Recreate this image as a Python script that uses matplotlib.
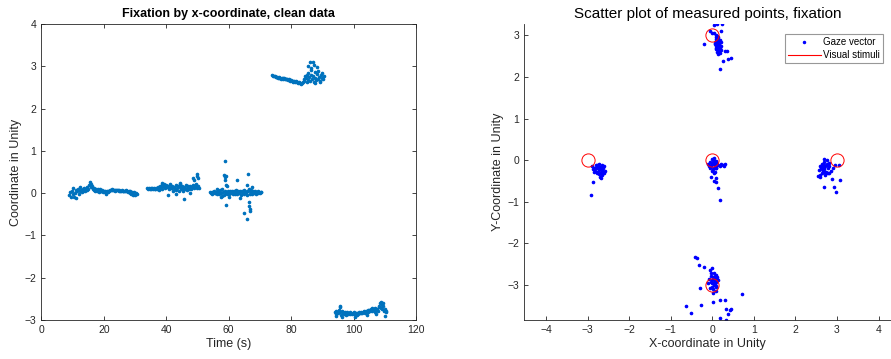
import numpy as np
from matplotlib import pyplot as plt
from matplotlib.lines import Line2D

# x-coordinate over time, sampled every 0.25 s, one list per fixation
dt = 0.25
seg1_t0 = 9.0
seg1 = [-0.05, 0.02, -0.1, 0.05, -0.03, 0.12, -0.08, 0.0, 0.08, -0.12, 0.06, 0.1, -0.02, 0.14, 0.05,
        0.08, 0.03, 0.1, 0.06, 0.12, 0.04, 0.09, 0.15, 0.07, 0.11,
        0.2, 0.27, 0.22, 0.15, 0.18, 0.1,
        0.08, 0.12, 0.06, 0.1, 0.05, 0.09, 0.07, 0.03, 0.1, 0.06, 0.04, 0.08, 0.02, 0.06,
        0.03, 0.05, -0.01, 0.04, 0.06, 0.02, 0.05, 0.08,
        0.08, 0.07, 0.09, 0.08, 0.07, 0.08, 0.06, 0.07, 0.08, 0.07, 0.06, 0.07, 0.05, 0.06, 0.07, 0.05,
        0.06, 0.04, 0.06, 0.05, 0.07, 0.04,
        0.02, 0.04, 0.0, 0.05, -0.02, 0.03, 0.0, -0.04, 0.02, -0.05, 0.01, -0.02]
seg2_t0 = 34.0
seg2 = [0.12, 0.11, 0.13, 0.1, 0.12, 0.11, 0.13, 0.1, 0.12, 0.09, 0.11,
        0.13, 0.1, 0.15, 0.12, 0.08, 0.16, 0.13, 0.2, 0.11, 0.18,
        0.22, 0.12, 0.16, 0.2, 0.14, 0.18, 0.1, 0.15, 0.21, 0.13, 0.17, 0.12,
        0.05, 0.15, 0.1, 0.2, 0.08, 0.13, 0.18, 0.06, 0.14, 0.22, 0.1, 0.16,
        0.12, 0.04, 0.15, 0.09, 0.2, 0.13, 0.07, 0.16, 0.11, 0.18, 0.14, 0.09,
        0.15, 0.2, 0.12, 0.18, 0.14, 0.22, 0.16, 0.13, 0.18, 0.12]
seg3_t0 = 54.0
seg3 = [0.02, 0.0, 0.03, -0.01, 0.02, 0.04, 0.0, 0.01, 0.03, -0.02, 0.02,
        0.05, -0.03, 0.08, 0.0, -0.06, 0.1, 0.02, -0.04, 0.06, 0.0,
        0.03, -0.02, 0.05, 0.01, -0.01, 0.04, 0.0, 0.06, -0.03, 0.02, 0.05, -0.01,
        0.03, 0.07, -0.02, 0.04, 0.0, 0.06, 0.02, -0.04, 0.05, 0.01, 0.08, -0.02,
        0.03, 0.0, 0.06, -0.05, 0.04, 0.1, -0.03, 0.02, 0.07, -0.01, 0.04, 0.0,
        0.03, 0.05, -0.02, 0.02, 0.04, 0.0, 0.03, 0.01, 0.02, 0.03]
seg4_t0 = 74.0
seg4 = [2.79, 2.78, 2.76, 2.77, 2.75, 2.74, 2.75, 2.73, 2.72, 2.74, 2.72,
        2.71, 2.73, 2.72, 2.7, 2.72, 2.71, 2.69, 2.71, 2.7, 2.68,
        2.7, 2.68, 2.66, 2.67, 2.65, 2.66, 2.64, 2.66, 2.63, 2.65, 2.62, 2.63,
        2.61, 2.62, 2.6, 2.61, 2.59, 2.6, 2.62, 2.65, 2.7, 2.78, 2.72, 2.8,
        2.68, 2.85, 2.74, 2.66, 2.8, 2.92, 2.7, 2.77, 2.64, 2.86, 2.73, 2.68,
        2.82, 2.7, 2.9, 2.75, 2.65, 2.8, 2.72, 2.85, 2.7, 2.76]
seg5_t0 = 94.0
seg5 = [-2.82, -2.78, -2.86, -2.8, -2.84, -2.76, -2.7, -2.82, -2.88, -2.79, -2.84,
        -2.8, -2.85, -2.82, -2.87, -2.83, -2.8, -2.86, -2.84, -2.82, -2.85,
        -2.84, -2.86, -2.83, -2.85, -2.82, -2.86, -2.84, -2.88, -2.83, -2.85, -2.82, -2.84,
        -2.83, -2.81, -2.84, -2.8, -2.82, -2.79, -2.83, -2.78, -2.81, -2.77, -2.8, -2.76,
        -2.79, -2.75, -2.78, -2.72, -2.77, -2.74, -2.8, -2.71, -2.76, -2.73, -2.79, -2.7,
        -2.66, -2.6, -2.72, -2.64, -2.75, -2.68, -2.78, -2.74, -2.82, -2.79]

# scattered samples off the main bands (time, value)
extra_t = [40.5, 43.2, 45.8, 47.5, 48.6, 48.8, 49.9, 50.0, 50.1, 38.8, 44.5,
           58.8, 58.6, 58.9, 59.3, 58.7, 59.0, 59.5, 59.1, 62.8, 64.8, 65.8, 66.1, 65.9,
           66.6, 66.7, 66.8, 66.5, 60.2, 57.5, 63.5, 67.5, 56.2,
           85.5, 86.2, 87.0, 87.2, 86.5, 88.4, 87.6, 89.2, 85.0,
           95.6, 94.5, 100.5, 104.2, 107.2, 108.7, 109.4, 110.2, 96.2]
extra_v = [-0.05, -0.02, -0.14, 0.0, 0.36, 0.3, 0.45, 0.4, 0.35, 0.25, 0.25,
           0.75, 0.42, 0.38, 0.4, 0.3, 0.2, 0.18, -0.28, 0.3, -0.47, -0.62, 0.46, 0.2,
           -0.3, -0.38, -0.43, -0.22, -0.1, -0.1, -0.12, 0.15, 0.1,
           3.0, 3.09, 3.1, 3.02, 2.95, 2.98, 2.6, 2.62, 2.62,
           -2.66, -2.9, -2.92, -2.88, -2.86, -2.57, -2.6, -2.9, -2.92]

# gaze points per target
top_x = [0.05, 0.1, 0.15, 0.08, 0.12, 0.18, 0.14, 0.1, 0.06, 0.2, 0.13, 0.16, 0.11, 0.09, 0.17, 0.14,
         0.12, 0.19, 0.07, 0.15, 0.1, 0.13, 0.16, 0.12, 0.18, 0.11, 0.14, 0.2, 0.09, 0.15, 0.12, 0.17,
         0.13, 0.22, 0.08, 0.05, 0.12, 0.24, -0.2, 0.27, 0.18, 0.44, 0.38, 0.3, 0.35, -0.05, 0.0, 0.2]
top_y = [3.05, 3.0, 2.95, 2.92, 2.9, 2.88, 2.85, 2.86, 2.82, 2.83, 2.8, 2.78, 2.77, 2.75, 2.74, 2.72,
         2.7, 2.7, 2.8, 2.68, 2.66, 2.64, 2.62, 2.6, 2.58, 2.84, 2.76, 2.73, 2.7, 2.9, 2.98, 2.81,
         2.55, 2.65, 2.95, 3.24, 3.26, 3.26, 2.78, 2.37, 2.2, 2.46, 2.42, 2.63, 2.62, 3.1, 3.05, 3.1]
mid_x = [-0.1, -0.05, 0.0, 0.05, 0.1, 0.02, 0.07, -0.03, 0.04, 0.08, 0.12, 0.0, 0.06, -0.06, 0.03, 0.1,
         0.15, 0.2, 0.25, 0.3, 0.02, -0.02, 0.05, 0.08, 0.0, 0.04, 0.1, -0.08, 0.06, 0.03, 0.18, 0.28,
         0.15, 0.18, 0.09, -0.03, 0.05, 0.1]
mid_y = [-0.1, -0.05, 0.02, 0.05, -0.02, -0.08, -0.12, -0.15, -0.18, -0.2, -0.1, -0.25, -0.28, -0.2,
         0.0, -0.05, -0.12, -0.1, -0.12, -0.1, -0.22, -0.12, -0.3, -0.15, -0.08, -0.02, -0.18, -0.15,
         -0.06, -0.1, -0.15, -0.14, -0.68, -0.96, -0.52, -0.4, -0.5, -0.42]
left_x = [-2.9, -2.85, -2.8, -2.75, -2.7, -2.65, -2.6, -2.82, -2.77, -2.72, -2.67, -2.62, -2.58, -2.88,
          -2.8, -2.74, -2.68, -2.63, -2.78, -2.72, -2.66, -2.7, -2.76, -2.64, -2.84, -2.6, -2.7, -2.68,
          -2.73, -2.66, -2.86, -2.92]
left_y = [-0.15, -0.18, -0.12, -0.2, -0.16, -0.22, -0.14, -0.25, -0.28, -0.24, -0.3, -0.2, -0.26, -0.22,
          -0.2, -0.14, -0.18, -0.28, -0.32, -0.34, -0.36, -0.3, -0.12, -0.12, -0.28, -0.32, -0.4, -0.42,
          -0.1, -0.25, -0.52, -0.84]
right_x = [2.6, 2.65, 2.7, 2.75, 2.8, 2.62, 2.68, 2.72, 2.78, 2.66, 2.7, 2.74, 2.58, 2.64, 2.76, 2.82,
           2.7, 2.68, 2.73, 2.6, 2.85, 2.9, 2.66, 2.72, 2.78, 2.63, 2.75, 2.69, 2.8, 2.95,
           2.92, 2.98, 3.07, 2.7, 2.55, 2.6, 3.05, 2.88]
right_y = [-0.15, -0.1, -0.05, 0.0, -0.08, -0.2, -0.18, -0.15, -0.2, -0.25, -0.22, -0.28, -0.24, -0.3,
           -0.12, -0.15, -0.12, 0.02, -0.3, -0.36, -0.25, -0.2, -0.15, -0.35, -0.3, -0.22, -0.1, -0.28,
           -0.32, -0.12, -0.64, -0.76, -0.48, -0.64, -0.38, -0.4, -0.12, -0.45]
bot_x = [-0.05, 0.0, 0.05, 0.1, -0.02, 0.03, 0.08, -0.08, 0.0, 0.06, 0.12, -0.04, 0.02, 0.07, 0.15, -0.1,
         0.04, 0.0, 0.09, -0.03, 0.05, 0.1, 0.02, -0.06, 0.08, 0.03, 0.0, 0.12, 0.06, 0.1,
         -0.41, -0.37, -0.32, -0.19, -0.29, -0.63, -0.5, -0.26, 0.02, 0.18, 0.3, 0.34, 0.43, 0.39, 0.34,
         0.72, 0.18, 0.45]
bot_y = [-2.65, -2.6, -2.7, -2.75, -2.78, -2.8, -2.82, -2.85, -2.88, -2.9, -2.85, -2.92, -2.95, -2.98,
         -2.88, -2.95, -3.0, -3.05, -3.02, -2.72, -2.85, -2.92, -3.1, -3.08, -3.15, -3.2, -2.95, -2.8,
         -2.78, -3.05, -2.32, -2.34, -2.52, -2.56, -3.08, -3.51, -3.68, -3.49, -3.41, -3.37, -3.37, -3.57,
         -3.6, -3.69, -3.84, -3.22, -3.8, -3.57]

# target positions
stim_x = [0, -3, 0, 3, 0]
stim_y = [3, 0, 0, 0, -3]

matBlue = '#0072BD'
axCol = '#262626'
plt.rcParams['font.family'] = ['Liberation Sans', 'DejaVu Sans']

fig = plt.figure(figsize=(8.91, 3.59), dpi=100)

# left: fixation by x-coordinate
ax1 = fig.add_axes([0.0464, 0.1086, 0.4205, 0.8245])
for t0, vals in [(seg1_t0, seg1), (seg2_t0, seg2), (seg3_t0, seg3), (seg4_t0, seg4), (seg5_t0, seg5)]:
    t = t0 + dt * np.arange(len(vals))
    ax1.plot(t, vals, '.', color=matBlue, markersize=3.2, linestyle='none')
ax1.plot(extra_t, extra_v, '.', color=matBlue, markersize=3.2, linestyle='none')
ax1.set_xlim(0, 120)
ax1.set_ylim(-3, 4)
ax1.set_xticks(range(0, 121, 20))
ax1.set_yticks(range(-3, 5))
ax1.set_title('Fixation by x-coordinate, clean data', fontsize=9, fontweight='bold', color='k', pad=5)
ax1.set_xlabel('Time (s)', fontsize=9, color=axCol, labelpad=2)
ax1.set_ylabel('Coordinate in Unity', fontsize=9, color=axCol, labelpad=2)
ax1.tick_params(axis='both', which='both', direction='in', top=True, right=True,
                labelsize=7.5, colors=axCol, length=3, width=0.6)
for sp in ax1.spines.values():
    sp.set_color(axCol)
    sp.set_linewidth(0.6)

# right: scatter of gaze points
ax2 = fig.add_axes([0.588, 0.1086, 0.412, 0.8245])
gx = top_x + mid_x + left_x + right_x + bot_x
gy = top_y + mid_y + left_y + right_y + bot_y
ax2.plot(gx, gy, '.', color='b', markersize=3.2, linestyle='none')
ax2.plot(stim_x, stim_y, 'o', markerfacecolor='none', markeredgecolor='r', markersize=9.5,
         markeredgewidth=0.7, linestyle='none')
ax2.set_xlim(-4.53, 4.3)
ax2.set_ylim(-3.84, 3.27)
ax2.set_xticks(range(-4, 5))
ax2.set_yticks(range(-3, 4))
ax2.set_title('Scatter plot of measured points, fixation', fontsize=11, color='k', pad=4)
ax2.set_xlabel('X-coordinate in Unity', fontsize=9, color=axCol, labelpad=2)
ax2.set_ylabel('Y-Coordinate in Unity', fontsize=9, color=axCol, labelpad=2)
ax2.tick_params(axis='both', direction='in', labelsize=7.5, colors=axCol, length=3, width=0.6)
ax2.spines['top'].set_visible(False)
ax2.spines['right'].set_visible(False)
for sp in ax2.spines.values():
    sp.set_color(axCol)
    sp.set_linewidth(0.6)

handles = [Line2D([], [], marker='.', color='b', linestyle='none', markersize=3),
           Line2D([], [], color='r', linewidth=0.8)]
leg = ax2.legend(handles, ['Gaze vector', 'Visual stimuli'], loc='upper left',
                 bbox_to_anchor=(0.881, 0.905), bbox_transform=fig.transFigure,
                 fontsize=7, frameon=True, fancybox=False, handlelength=3.4,
                 borderaxespad=0, borderpad=0.3, labelspacing=0.3, handletextpad=0.2)
leg.get_frame().set_edgecolor('#7f7f7f')
leg.get_frame().set_linewidth(0.8)

fig.savefig('out.png', dpi=100)
